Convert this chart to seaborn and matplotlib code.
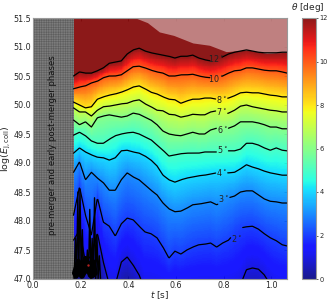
import numpy as np
import pandas as pd
import matplotlib
matplotlib.use('Agg')
import matplotlib.pyplot as plt
import seaborn as sns

# time knots [s] shared by all the contours
t_knots = [0.17, 0.195, 0.22, 0.245, 0.27, 0.295, 0.32, 0.345, 0.37, 0.395, 0.42, 0.445, 0.47,
           0.495, 0.52, 0.545, 0.57, 0.595, 0.62, 0.645, 0.67, 0.695, 0.72, 0.745, 0.77, 0.795,
           0.82, 0.845, 0.87, 0.895, 0.92, 0.945, 0.97, 0.995, 1.02, 1.045, 1.065]

# log(E) of each theta contour
deg12 = [50.50, 50.57, 50.55, 50.55, 50.59, 50.64, 50.72, 50.74, 50.76, 50.88, 50.95, 50.98, 50.93,
         50.90, 50.88, 50.86, 50.84, 50.81, 50.84, 50.84, 50.86, 50.81, 50.78, 50.76, 50.79, 50.83,
         50.88, 50.91, 50.93, 50.95, 50.93, 50.91, 50.90, 50.90, 50.90, 50.91, 50.91]
deg10 = [50.28, 50.31, 50.33, 50.38, 50.41, 50.47, 50.50, 50.50, 50.52, 50.59, 50.66, 50.67, 50.64,
         50.60, 50.57, 50.55, 50.50, 50.50, 50.52, 50.52, 50.53, 50.50, 50.48, 50.47, 50.48, 50.50,
         50.55, 50.59, 50.60, 50.64, 50.64, 50.62, 50.60, 50.59, 50.59, 50.57, 50.55]
deg8 = [50.05, 50.00, 49.95, 49.97, 50.10, 50.14, 50.17, 50.19, 50.22, 50.26, 50.31, 50.33, 50.28,
        50.22, 50.19, 50.14, 50.10, 50.09, 50.03, 50.07, 50.10, 50.10, 50.12, 50.12, 50.10, 50.10,
        50.12, 50.16, 50.21, 50.22, 50.21, 50.21, 50.19, 50.17, 50.16, 50.14, 50.14]
deg7 = [49.95, 49.88, 49.88, 49.81, 49.91, 49.97, 49.98, 50.00, 50.02, 50.03, 50.07, 50.09, 50.02,
        49.97, 49.91, 49.90, 49.84, 49.83, 49.79, 49.81, 49.84, 49.83, 49.83, 49.88, 49.90, 49.84,
        49.86, 49.91, 49.98, 50.00, 49.97, 49.95, 49.93, 49.91, 49.90, 49.88, 49.88]
deg6 = [49.74, 49.66, 49.71, 49.62, 49.78, 49.81, 49.83, 49.81, 49.79, 49.81, 49.86, 49.84, 49.79,
        49.74, 49.66, 49.55, 49.50, 49.48, 49.47, 49.50, 49.53, 49.50, 49.50, 49.57, 49.60, 49.59,
        49.60, 49.64, 49.71, 49.71, 49.71, 49.69, 49.66, 49.62, 49.62, 49.59, 49.59]
deg5 = [49.48, 49.53, 49.47, 49.38, 49.34, 49.34, 49.41, 49.47, 49.50, 49.52, 49.53, 49.50, 49.45,
        49.40, 49.31, 49.22, 49.12, 49.14, 49.16, 49.17, 49.17, 49.17, 49.19, 49.19, 49.19, 49.19,
        49.21, 49.21, 49.24, 49.34, 49.34, 49.31, 49.26, 49.22, 49.26, 49.22, 49.21]
deg4 = [49.17, 49.26, 49.19, 49.14, 49.10, 49.09, 49.05, 49.09, 49.21, 49.22, 49.19, 49.17, 49.12,
        49.05, 48.95, 48.79, 48.71, 48.67, 48.71, 48.74, 48.76, 48.78, 48.79, 48.81, 48.83, 48.83,
        48.83, 48.84, 48.90, 48.97, 48.93, 48.90, 48.86, 48.83, 48.81, 48.79, 48.79]
deg3 = [48.84, 49.02, 48.71, 48.84, 48.74, 48.66, 48.53, 48.53, 48.71, 48.83, 48.76, 48.71, 48.62,
        48.53, 48.45, 48.31, 48.21, 48.16, 48.17, 48.22, 48.28, 48.29, 48.31, 48.33, 48.28, 48.33,
        48.40, 48.43, 48.50, 48.52, 48.52, 48.45, 48.38, 48.34, 48.33, 48.31, 48.31]
deg2 = [48.10, 48.59, 48.10, 47.76, 48.40, 47.98, 47.91, 47.74, 47.95, 48.05, 48.02, 47.91, 47.81,
        47.78, 47.71, 47.55, 47.36, 47.48, 47.43, 47.50, 47.55, 47.59, 47.60, 47.62, 47.55, 47.62,
        47.67, 47.79, 47.88, 47.90, 47.91, 47.86, 47.78, 47.71, 47.66, 47.59, 47.57]
deg1 = [47.67, 47.84, 47.29, 47.41, 47.79, 47.29, 46.90, 46.90, 47.29, 47.38, 47.24, 47.07, 46.80,
        46.80, 46.80, 46.80, 46.80, 46.80, 46.80, 46.80, 46.80, 46.80, 46.80, 46.80, 46.80, 46.80,
        46.80, 46.80, 46.90, 47.16, 47.19, 47.17, 47.07, 46.90, 46.80, 46.80, 46.80]
deg0 = [46.9, 47.0, 46.8, 46.9, 47.0, 46.7, 46.4, 46.4, 46.7, 46.8, 46.7, 46.5, 46.3,
        46.3, 46.3, 46.3, 46.3, 46.3, 46.3, 46.3, 46.3, 46.3, 46.3, 46.3, 46.3, 46.3,
        46.3, 46.3, 46.4, 46.6, 46.6, 46.6, 46.5, 46.4, 46.3, 46.3, 46.3]

levels = [0, 1, 2, 3, 4, 5, 6, 7, 8, 10, 12]
curves = [deg0, deg1, deg2, deg3, deg4, deg5, deg6, deg7, deg8, deg10, deg12]

# contour labels: level, t, log(E)
label_deg = [12, 10, 8, 7, 6, 5, 4, 3, 2]
label_t = [0.766, 0.766, 0.79, 0.79, 0.795, 0.795, 0.79, 0.80, 0.853]
label_e = [50.81, 50.45, 50.09, 49.88, 49.57, 49.24, 48.83, 48.38, 47.69]

# upper edge of the red part, above it the paler region
edge_t = [0.43, 0.48, 0.53, 0.59, 0.67, 0.74, 0.81, 0.90, 0.98, 1.065]
edge_e = [51.5, 51.42, 51.26, 51.2, 51.07, 51.03, 50.92, 50.95, 50.89, 50.91]

# tangled contours at the bottom left
tangle_t = [0.172, 0.178, 0.183, 0.188, 0.192, 0.197, 0.202, 0.207, 0.212, 0.217, 0.222, 0.228,
            0.233, 0.238, 0.243, 0.248, 0.253, 0.258, 0.263, 0.268, 0.273, 0.278, 0.283]
tangle_e = [47.0, 47.7, 47.1, 48.5, 47.05, 48.55, 47.1, 47.85, 47.05, 47.3, 47.1, 47.5, 47.05,
            48.2, 47.0, 47.7, 47.1, 48.4, 47.0, 47.75, 47.0, 47.4, 47.0]
blob_t = [0.175, 0.19, 0.205, 0.22, 0.235, 0.25, 0.26, 0.245, 0.225, 0.205, 0.19, 0.18]
blob_e = [47.1, 47.3, 47.15, 47.35, 47.2, 47.3, 47.1, 47.05, 47.2, 47.05, 47.2, 47.05]

sns.set_style('ticks')
plt.rcParams['font.family'] = ['DejaVu Sans']
plt.rcParams['font.size'] = 5.8
plt.rcParams['hatch.linewidth'] = 0.4

fig = plt.figure(figsize=(3.3, 3.0), dpi=100)
ax = fig.add_axes([33 / 330, 21 / 300, 254 / 330, 261 / 300])
cax = fig.add_axes([302 / 330, 21 / 300, 14 / 330, 261 / 300])

# colour field between the contours
t_fine = np.linspace(0.17, 1.065, 180)
e_fine = np.linspace(47.0, 51.5, 300)
knot_arr = np.array(curves)
field = np.zeros((len(e_fine), len(t_fine)))
for i, t in enumerate(t_fine):
    pos = [np.interp(t, t_knots, c) for c in knot_arr]
    field[:, i] = np.interp(e_fine, pos, levels)
mesh = ax.pcolormesh(t_fine, e_fine, field, cmap='jet', vmin=0, vmax=12, alpha=0.9,
                     shading='auto', rasterized=True, linewidth=0)

# paler region top right
ax.fill_between(edge_t, edge_e, 51.5, color='white', alpha=0.45, linewidth=0)

# hatched pre-merger part
ax.axvspan(0, 0.17, facecolor='#7c7c7c', edgecolor='#5e5e5e', hatch='+++++++', linewidth=0)

# contours in long form, with a gap where each label sits
rows = []
for lev, c in zip(levels[1:], curves[1:]):
    tt = np.linspace(0.17, 1.065, 300)
    ee = np.interp(tt, t_knots, c)
    gap = label_t[label_deg.index(lev)] if lev in label_deg else None
    for a, b in zip(tt, ee):
        if gap is not None and abs(a - gap) < 0.024:
            continue
        seg = 0 if gap is None or a < gap else 1
        rows.append({'t': a, 'e': b, 'line': f'{lev}_{seg}'})
df = pd.DataFrame(rows)
sns.lineplot(data=df, x='t', y='e', units='line', estimator=None, color='black', linewidth=0.9,
             sort=False, ax=ax, legend=False)
sns.lineplot(x=tangle_t, y=tangle_e, estimator=None, color='black', linewidth=1.0, sort=False, ax=ax)
sns.lineplot(x=blob_t, y=blob_e, estimator=None, color='black', linewidth=4, sort=False, ax=ax)
sns.scatterplot(x=[0.23], y=[47.24], color='#b02020', s=3, linewidth=0, ax=ax, zorder=5)

for lev, lt, le in zip(label_deg, label_t, label_e):
    ax.text(lt, le, f'{lev}$^\\circ$', fontsize=5.8, color='#222222', ha='center', va='center')

ax.text(0.08, 49.3, 'pre-merger and early post-merger phases', rotation=90, fontsize=6.1,
        color='#111111', ha='center', va='center')

ax.set_xlim(0, 1.065)
ax.set_ylim(47.0, 51.5)
ax.set_xticks([0.0, 0.2, 0.4, 0.6, 0.8, 1.0])
ax.set_yticks([47.0, 47.5, 48.0, 48.5, 49.0, 49.5, 50.0, 50.5, 51.0, 51.5])
ax.tick_params(direction='in', top=True, right=True, length=2, width=0.5, labelsize=5.8, pad=1.5,
               color='#444444')
ax.set_xlabel('$t$ [s]', fontsize=6.5, labelpad=0)
ax.xaxis.set_label_coords(0.5, -0.038, transform=ax.transAxes)
ax.set_ylabel('log($E_{\\rm j,coll}$)', fontsize=6.8, labelpad=1)
ax.yaxis.set_label_coords(-0.08, 0.5, transform=ax.transAxes)
for s in ax.spines.values():
    s.set_color('#999999')
    s.set_linewidth(0.8)

cb = fig.colorbar(mesh, cax=cax)
cb.set_ticks([0, 2, 4, 6, 8, 10, 12])
cb.ax.tick_params(labelsize=4.8, length=1.5, width=0.5, pad=1)
cb.outline.set_edgecolor('#999999')
cb.outline.set_linewidth(0.8)
fig.text(308 / 330, 293 / 300, '$\\theta$ [deg]', fontsize=6.5, ha='center', va='center')

fig.savefig('out.png', dpi=100)
